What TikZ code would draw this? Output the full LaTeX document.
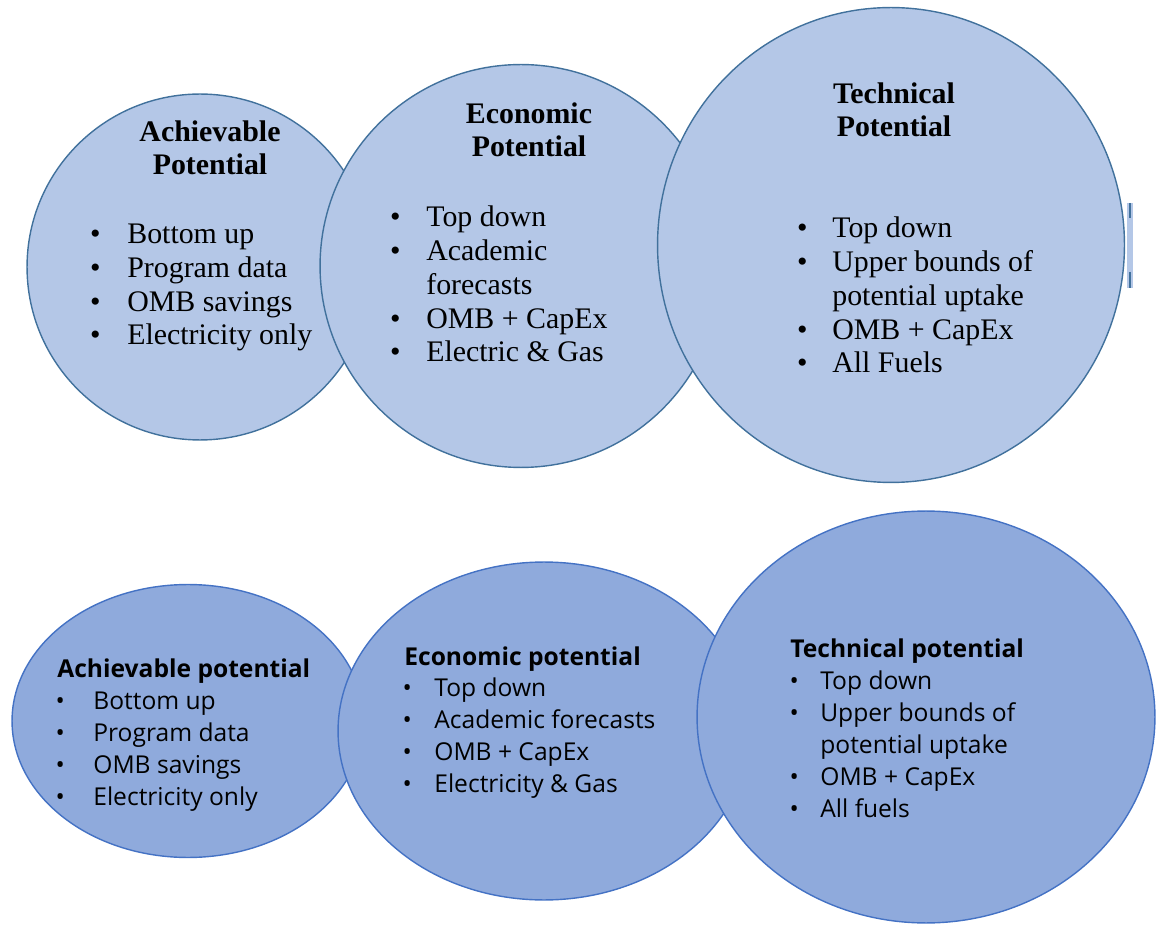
\documentclass[tikz,border=0pt]{standalone}
\usepackage[T1]{fontenc}
\usepackage{fontspec}
\usetikzlibrary{shapes.geometric}

\newfontfamily\lowfont{Open Sans}
% Palatino-like serif for the upper row, Liberation Serif if none is found
\newif\ifpalfound
\IfFileExists{t1qpl.fd}{\IfFileExists{ec-qplb.tfm}{\palfoundtrue
  \newcommand{\topfont}{\fontencoding{T1}\fontfamily{qpl}\selectfont}}{}}{}
\ifpalfound\else
  \IfFileExists{t1ppl.fd}{\IfFileExists{pplb8t.tfm}{\palfoundtrue
    \newcommand{\topfont}{\fontencoding{T1}\fontfamily{ppl}\selectfont}}{}}{}
\fi
\ifpalfound
  \newcommand{\topsz}{16}\newcommand{\topsk}{19.3}
\else
  \newfontfamily\topfont{Liberation Serif}
  \newcommand{\topsz}{17}\newcommand{\topsk}{19.3}
\fi
\newlength{\bulw}
\newcommand{\itm}{\llap{\makebox[\bulw][c]{\textbullet}}}

\definecolor{topfill}{HTML}{B4C7E7}
\definecolor{topline}{HTML}{41719C}
\definecolor{lowfill}{HTML}{8FAADC}
\definecolor{lowline}{HTML}{4472C4}

\begin{document}
\begin{tikzpicture}[x=0.02cm, y=-0.02cm]
    \tikzset{
      bw/.code={\setlength{\bulw}{#1}},
      topball/.style={ellipse, draw=topline, fill=topfill, line width=0.8pt, inner sep=0pt},
      lowball/.style={ellipse, draw=lowline, fill=lowfill, line width=0.8pt, inner sep=0pt},
      tophead/.style={font=\topfont\bfseries\fontsize{\topsz}{18.8}\selectfont, align=center, anchor=base, inner sep=0pt},
      toplist/.style={font=\topfont\fontsize{\topsz}{\topsk}\selectfont, align=left, anchor=base west, inner sep=0pt, bw=1.24cm},
      lowhead/.style={font=\lowfont\bfseries\fontsize{14}{18}\selectfont, anchor=base west, inner sep=0pt},
      lowlist/.style={font=\lowfont\fontsize{14}{18.2}\selectfont, align=left, anchor=base west, inner sep=0pt},
    }
    \useasboundingbox (0,0) rectangle (1156,925);

    % upper row
    \node [topball, minimum width=6.92cm, minimum height=6.92cm] (achtop) at (200,267) {};
    \node [topball, minimum width=8.04cm, minimum height=8.06cm] (ecotop) at (521,266) {};
    \node [topball, minimum width=9.34cm, minimum height=9.5cm]  (tectop) at (891,245) {};
    \fill [topfill] (1127,203) rectangle (1133,288);
    \draw [topline, line width=1.6pt] (1130,203) -- (1130,218) (1130,272) -- (1130,288);

    % multi-line nodes sit on their last baseline
    \node [tophead] (achhead) at (210,175) {Achievable\\Potential};
    \node [toplist, bw=1.28cm] (achlist) at (127,345)
      {\itm Bottom up\\ \itm Program data\\ \itm OMB savings\\ \itm Electricity only};
    \node [tophead] (ecohead) at (529,157) {Economic\\Potential};
    \node [toplist] (ecolist) at (426,362)
      {\itm Top down\\ \itm Academic\\ forecasts\\ \itm OMB + CapEx\\ \itm Electric \& Gas};
    \node [tophead] (techead) at (894,137) {Technical\\Potential};
    \node [toplist, bw=1.2cm] (teclist) at (832,373)
      {\itm Top down\\ \itm Upper bounds of\\ potential uptake\\ \itm OMB + CapEx\\ \itm All Fuels};

    % lower row
    \node [lowball, minimum width=7.04cm, minimum height=5.46cm] (achlow) at (188,721) {};
    \node [lowball, minimum width=8.24cm, minimum height=6.76cm] (ecolow) at (544,731) {};
    \node [lowball, minimum width=9.16cm, minimum height=8.24cm] (teclow) at (926,717) {};

    \node [lowhead] (achtitle) at (57,677) {Achievable potential};
    \node [lowlist, bw=1.32cm] (achitems) at (93,805)
      {\itm Bottom up\\ \itm Program data\\ \itm OMB savings\\ \itm Electricity only};
    \node [lowhead] (ecotitle) at (404,665) {Economic potential};
    \node [lowlist, bw=1.08cm] (ecoitems) at (434,792)
      {\itm Top down\\ \itm Academic forecasts\\ \itm OMB + CapEx\\ \itm Electricity \& Gas};
    \node [lowhead] (tectitle) at (790,657) {Technical potential};
    \node [lowlist, bw=1.04cm] (tecitems) at (820,817)
      {\itm Top down\\ \itm Upper bounds of\\ potential uptake\\ \itm OMB + CapEx\\ \itm All fuels};
\end{tikzpicture}
\end{document}
